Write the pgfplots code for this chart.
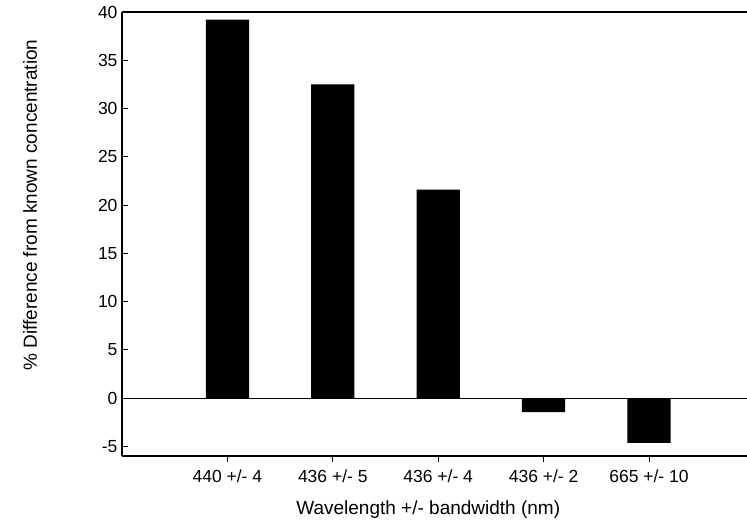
\documentclass[border=0pt]{standalone}
\usepackage{fontspec}
\setmainfont{Liberation Sans}
\usepackage{pgfplots}
\pgfplotsset{compat=1.18}
\begin{document}
\begin{tikzpicture}[x=1pt,y=1pt]
\path[use as bounding box] (-122,-73) rectangle (625,456);
\begin{axis}[
  at={(0,0)}, anchor=south west,
  scale only axis, width=625pt, height=444pt,
  xmin=-1, xmax=4.93, ymin=-6, ymax=40,
  axis x line*=box, axis y line*=left,
  axis line style={line width=1.1pt, black},
  xtick pos=bottom, ytick pos=left,
  tick align=inside,
  major tick length=6pt,
  tick style={line width=0.9pt, black},
  xtick={0,1,2,3,4},
  xticklabels={440 +/- 4, 436 +/- 5, 436 +/- 4, 436 +/- 2, 665 +/- 10},
  ytick={-5,0,5,10,15,20,25,30,35,40},
  extra y ticks={0},
  extra y tick labels={},
  extra y tick style={grid=major, major grid style={black, line width=0.9pt}, major tick length=0pt},
  /pgf/number format/assume math mode=true,
  tick label style={font=\fontsize{17.5}{20}\selectfont},
  xticklabel style={yshift=-4pt},
  yticklabel style={xshift=-1pt},
  xlabel={Wavelength +/- bandwidth (nm)},
  ylabel={\% Difference from known concentration},
  every axis x label/.style={at={(axis description cs:0.49,0)}, yshift=-54pt, anchor=center, font=\fontsize{19}{22}\selectfont},
  every axis y label/.style={at={(rel axis cs:0,0.565)}, xshift=-92pt, rotate=90, anchor=center, font=\fontsize{19}{22}\selectfont},
  ybar, bar width=0.41,
]
\addplot[fill=black, draw=none] coordinates {(0,39.2) (1,32.5) (2,21.6) (3,-1.45) (4,-4.65)};
\end{axis}
\end{tikzpicture}
\end{document}
